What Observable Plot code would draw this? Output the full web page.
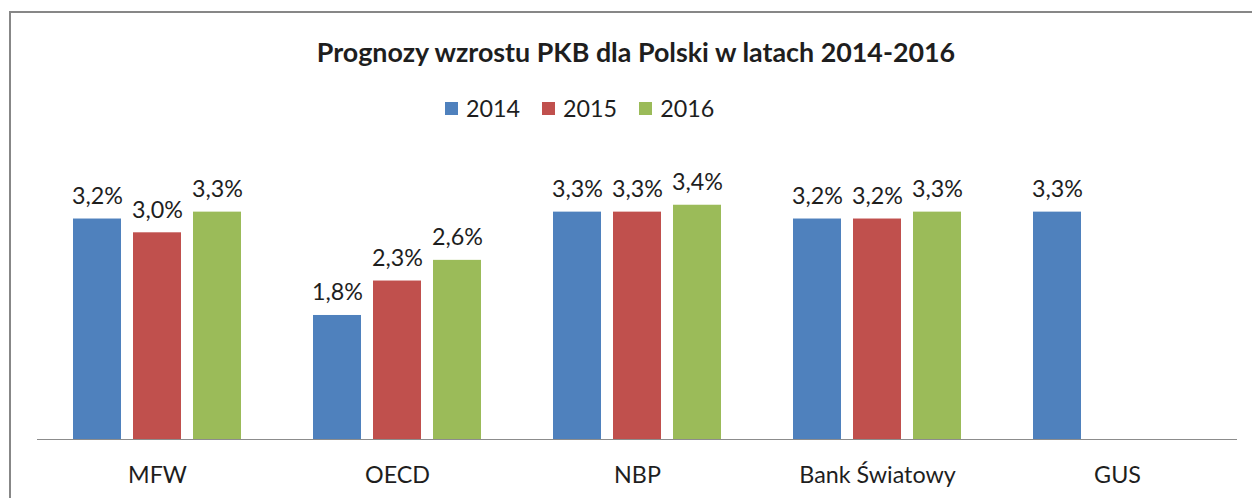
<!DOCTYPE html>
<html><head><meta charset="utf-8">
<script src="https://cdn.jsdelivr.net/npm/d3@7"></script>
<script src="https://cdn.jsdelivr.net/npm/@observablehq/plot@0.6"></script>
<style>
body{margin:0;background:#fff;width:1252px;height:498px;overflow:hidden;position:relative;font-family:Lato,"Open Sans",sans-serif;color:#1e1e1e;}
#frame{position:absolute;left:9px;top:11px;right:-10px;bottom:-10px;border-left:2px solid #878787;border-top:2px solid #878787;}
#title{position:absolute;left:10px;width:1252px;text-align:center;font-weight:bold;white-space:nowrap;}
#legend{position:absolute;left:445px;top:96px;height:24px;display:flex;align-items:center;}
.item{display:flex;align-items:center;margin-right:22px;}
.sw{width:13px;height:13px;margin-right:8px;}
#chart{position:absolute;left:0;top:130px;}
</style></head>
<body>
<div id="frame"></div>
<div id="title"></div>
<div id="legend"></div>
<div id="chart"></div>
<script>
const title = "Prognozy wzrostu PKB dla Polski w latach 2014-2016";
const categories = ["MFW", "OECD", "NBP", "Bank Światowy", "GUS"];
const years = ["2014", "2015", "2016"];
const v2014 = [3.2, 1.8, 3.3, 3.2, 3.3];
const v2015 = [3.0, 2.3, 3.3, 3.2, null];
const v2016 = [3.3, 2.6, 3.4, 3.3, null];
const colors = ["#4F81BD", "#C0504D", "#9BBB59"];

const series = [v2014, v2015, v2016];
const data = [];
categories.forEach((c, i) => years.forEach((y, j) => {
  if (series[j][i] != null) data.push({cat: c, year: y, value: series[j][i]});
}));

const FAMILY = 'Lato, "Open Sans", sans-serif';
function fit(text, target, weight) {
  const ctx = document.createElement("canvas").getContext("2d");
  ctx.font = `${weight} 100px ${FAMILY}`;
  return 100 * target / ctx.measureText(text).width;
}
const titleSize = fit(title, 641, "bold");
const labelSize = fit("2,6%", 51, "normal");

const t = document.getElementById("title");
t.textContent = title;
t.style.fontSize = titleSize + "px";
t.style.lineHeight = "30px";
t.style.top = (52 - 15) + "px";

const lg = document.getElementById("legend");
lg.style.fontSize = labelSize + "px";
years.forEach((y, j) => {
  const it = document.createElement("div"); it.className = "item";
  const sw = document.createElement("div"); sw.className = "sw"; sw.style.background = colors[j];
  const tx = document.createElement("span"); tx.textContent = y;
  it.append(sw, tx); lg.append(it);
});

const fmt = v => v.toFixed(1).replace(".", ",") + "%";
const pxPerUnit = 68.9, baseY = 309;

const chart = Plot.plot({
  width: 1252, height: 368,
  marginLeft: 37, marginRight: 15, marginBottom: 368 - baseY, marginTop: baseY - 4 * pxPerUnit,
  fx: {domain: categories, padding: 0, label: null, axis: "bottom", tickSize: 0, tickPadding: 27},
  x: {domain: years, paddingInner: 0.2, paddingOuter: 0.6, axis: null},
  y: {domain: [0, 4], axis: null},
  color: {domain: years, range: colors},
  style: {fontFamily: FAMILY, fontSize: labelSize + "px", color: "#1e1e1e", background: "transparent"},
  marks: [
    Plot.barY(data, {fx: "cat", x: "year", y: "value", fill: "year"}),
    Plot.ruleY([0], {stroke: "#8c8c8c", strokeWidth: 1.2}),
    Plot.text(data, {fx: "cat", x: "year", y: "value", text: d => fmt(d.value), lineAnchor: "bottom", dy: -15, fill: "#1e1e1e"})
  ]
});
document.getElementById("chart").append(chart);
</script>
</body></html>
